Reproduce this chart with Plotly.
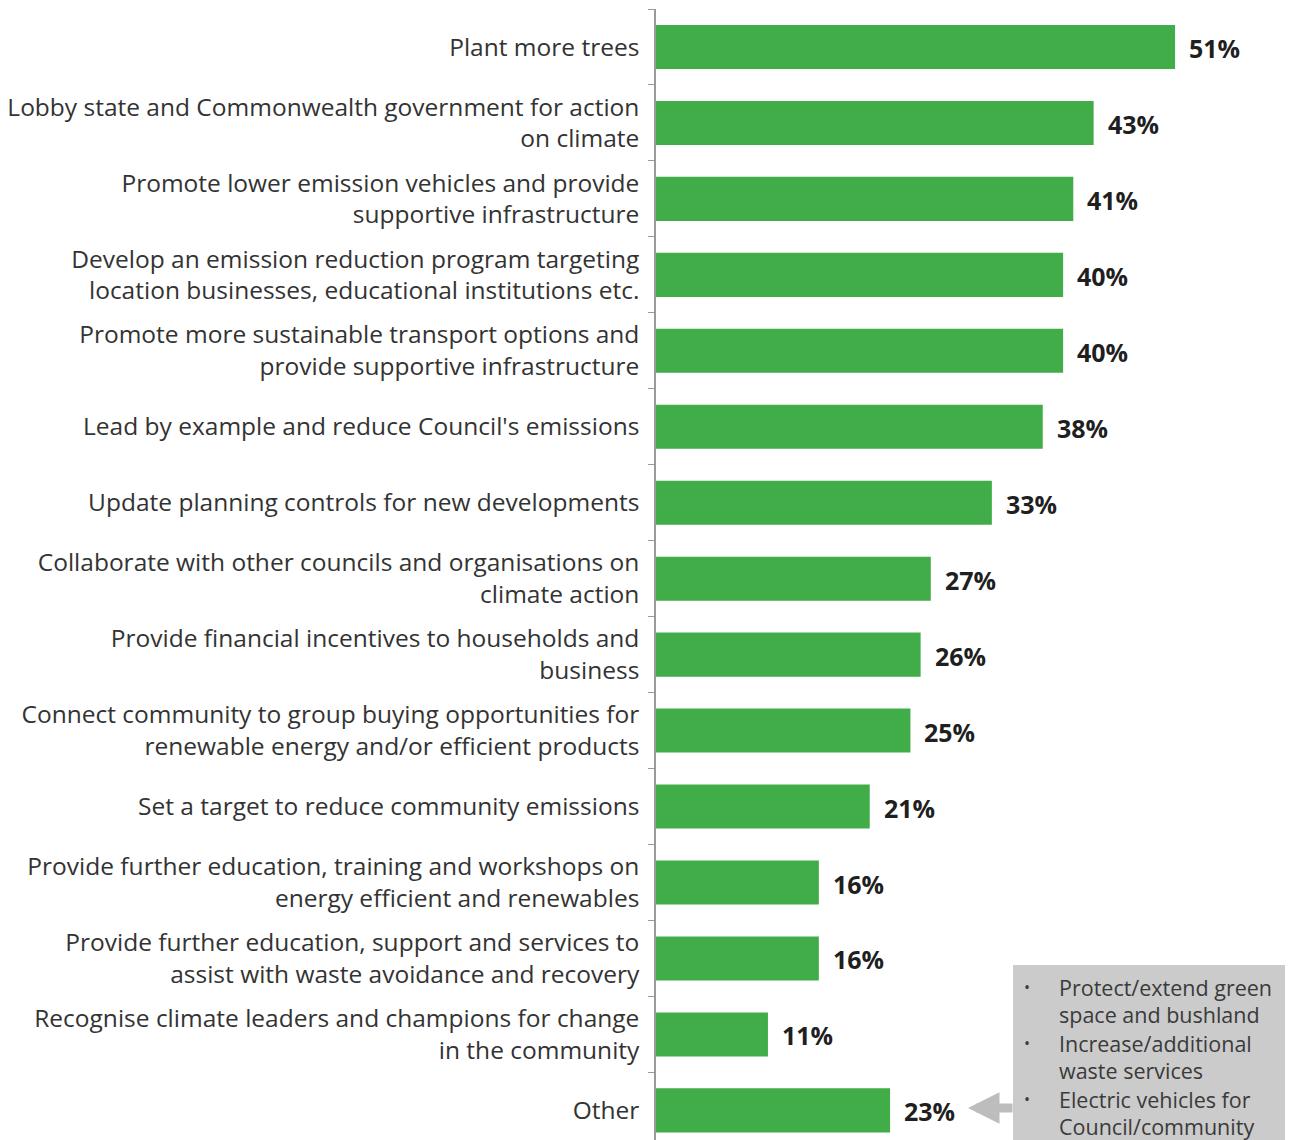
import plotly.graph_objects as go

categories = [
    "Plant more trees",
    "Lobby state and Commonwealth government for action<br>on climate",
    "Promote lower emission vehicles and provide<br>supportive infrastructure",
    "Develop an emission reduction program targeting<br>location businesses, educational institutions etc.",
    "Promote more sustainable transport options and<br>provide supportive infrastructure",
    "Lead by example and reduce Council's emissions",
    "Update planning controls for new developments",
    "Collaborate with other councils and organisations on<br>climate action",
    "Provide financial incentives to households and<br>business",
    "Connect community to group buying opportunities for<br>renewable energy and/or efficient products",
    "Set a target to reduce community emissions",
    "Provide further education, training and workshops on<br>energy efficient and renewables",
    "Provide further education, support and services to<br>assist with waste avoidance and recovery",
    "Recognise climate leaders and champions for change<br>in the community",
    "Other",
]
values = [51, 43, 41, 40, 40, 38, 33, 27, 26, 25, 21, 16, 16, 11, 23]
other_items = [
    ("Protect/extend green", "space and bushland"),
    ("Increase/additional", "waste services"),
    ("Electric vehicles for", "Council/community"),
]

OFF = 8  # page body margin
W, H = 1293 - OFF, 1140 - OFF
L, R, T, B = 648, 7, 1, 0
FONT = "Open Sans"

fig = go.Figure(go.Bar(
    x=values, y=categories, orientation="h",
    marker=dict(color="#41ad49", line=dict(width=0)),
    hoverinfo="skip",
))

annotations = []
for c, v in zip(categories, values):
    annotations.append(dict(
        x=v, y=c, xref="x", yref="y", text=f"<b>{v}%</b>", showarrow=False,
        xanchor="left", xshift=12, yshift=-1,
        font=dict(family=FONT, size=25, color="#1f1f1f"),
    ))

pw = W - L - R
ph = H - T - B
def px(xp):
    return (xp - OFF - L) / pw
def py(yp):
    return (H - B - (yp - OFF)) / ph

# grey box
shapes = [dict(type="rect", xref="paper", yref="paper",
               x0=px(1013), x1=px(1300), y0=py(1145), y1=py(965),
               fillcolor="#cbcbcb", line=dict(width=0), layer="above")]

# box text
line_y = [987, 1014, 1043, 1070, 1099, 1126]
lines = []
for a, b in other_items:
    lines += [a, b]
for i, (t, yy) in enumerate(zip(lines, line_y)):
    annotations.append(dict(
        x=px(1057), y=py(yy), xref="paper", yref="paper", text=t,
        showarrow=False, xanchor="left", yanchor="middle",
        font=dict(family=FONT, size=21.5, color="#3a3a3a"),
    ))
    if i % 2 == 0:
        annotations.append(dict(
            x=px(1027), y=py(yy), xref="paper", yref="paper", text="•",
            showarrow=False, xanchor="center", yanchor="middle",
            font=dict(family=FONT, size=16, color="#3a3a3a"),
        ))

# arrow
annotations.append(dict(
    x=px(968), y=py(1108), xref="paper", yref="paper", text="",
    showarrow=True, ax=46, ay=0, arrowhead=2, arrowsize=0.7,
    arrowwidth=9, arrowcolor="#bdbdbd",
))

fig.update_layout(
    width=W, height=H,
    margin=dict(l=L, r=R, t=T, b=B, pad=0),
    paper_bgcolor="white", plot_bgcolor="white",
    bargap=0.42,
    showlegend=False,
    font=dict(family=FONT, size=24.5, color="#333333"),
    xaxis=dict(range=[0, 61.9], visible=False, fixedrange=True),
    yaxis=dict(
        range=[14.39, -0.5], type="category",
        showline=True, linecolor="#9a9a9a", linewidth=1.5,
        ticks="outside", ticklen=6, tickcolor="#9a9a9a", tickson="boundaries",
        showgrid=False, ticklabelstandoff=10,
        tickfont=dict(family=FONT, size=24.5, color="#333333"),
    ),
    annotations=annotations,
    shapes=shapes,
)

fig.write_html("out.html")
